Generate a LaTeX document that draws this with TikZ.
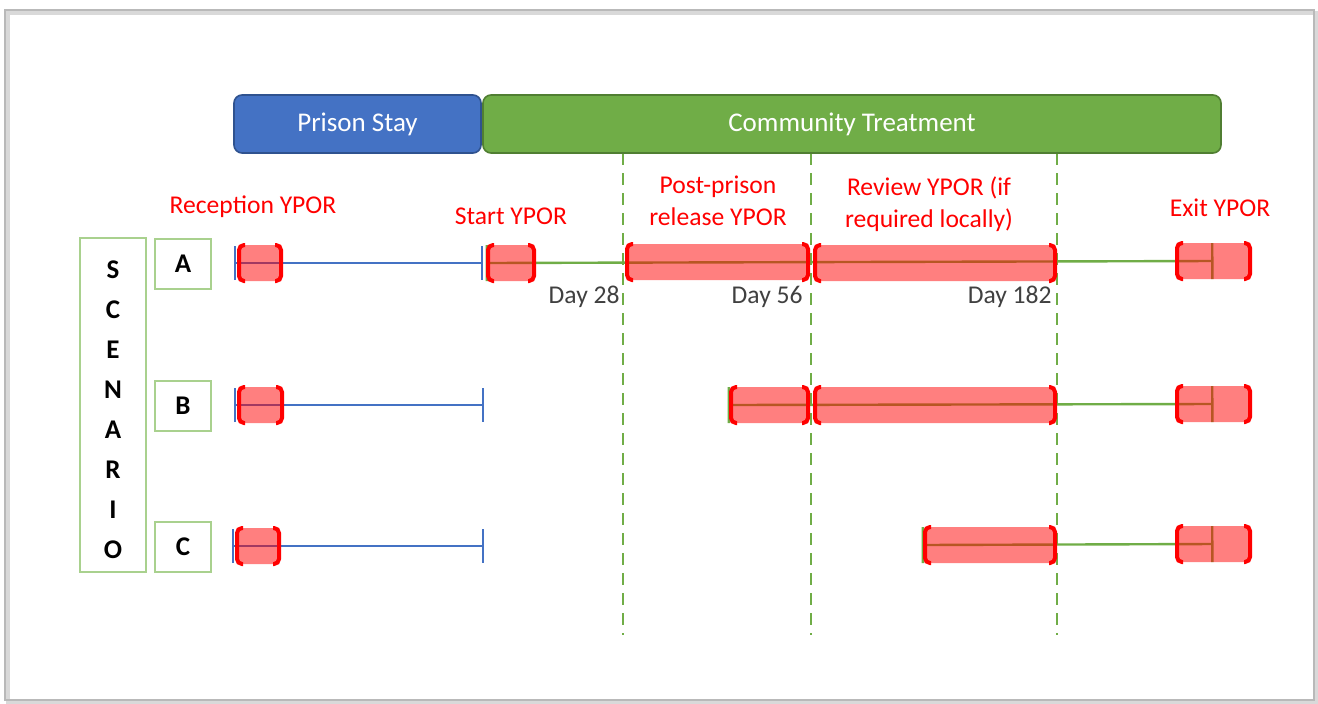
\documentclass[tikz,border=0pt]{standalone}
\usepackage{fontspec}
\setmainfont{Carlito}
\usetikzlibrary{positioning,arrows.meta,fit,backgrounds}

\definecolor{prisonblue}{HTML}{4472C4}
\definecolor{prisonedge}{HTML}{2F528F}
\definecolor{commgreen}{HTML}{70AD47}
\definecolor{commedge}{HTML}{507E32}
\definecolor{boxgreen}{HTML}{A9D18E}
\definecolor{daygray}{HTML}{404040}

\begin{document}
\begin{tikzpicture}[x=0.5pt, y=-0.5pt,
  every node/.style={font=\fontsize{12.8}{16}\selectfont},
  phase/.style={draw, line width=0.8pt, rounded corners=4pt, text=white, inner sep=0, outer sep=0,
    minimum height=29pt, font=\fontsize{13.5}{16}\selectfont},
  ypor/.style={fill=red, fill opacity=0.5, rounded corners=2pt, inner sep=0},
  bracket/.style={draw=red, line width=2pt, rounded corners=2.5pt},
  yportext/.style={text=red, align=center},
  daytext/.style={text=daygray, anchor=east, inner sep=0},
  scenbox/.style={draw=boxgreen, line width=0.6pt, inner sep=0, font=\fontsize{13.5}{16}\selectfont\bfseries},
  prisonline/.style={draw=prisonblue, line width=1.2pt, {Bar[width=17pt]}-{Bar[width=17pt]}},
  commline/.style={draw=commgreen, line width=1.2pt, {Bar[width=18pt]}-{Bar[width=18pt]}},
  daysplit/.style={draw=commgreen, line width=1pt, dash pattern=on 6pt off 4pt}]
  \useasboundingbox (0,0) rectangle (1318,703);
  %----- frame -----
  \draw[gray!30, line width=2pt] (8,13) rectangle (1316,702);
  \draw[gray!55, line width=0.8pt] (5,10) rectangle (1314,700);

  %----- YPOR capsule (name, left x, right x, centre y) -----
  \def\ypor#1#2#3#4{
    \node[ypor, fit={(#2,#4-18) (#3,#4+18)}] (#1) {};
    \draw[bracket] (#2+6,#4-18) -- (#2,#4-18) -- (#2,#4+18) -- (#2+6,#4+18);
    \draw[bracket] (#3-6,#4-18) -- (#3,#4-18) -- (#3,#4+18) -- (#3-6,#4+18);
  }

  %----- phases -----
  \node[phase, fill=prisonblue, draw=prisonedge, minimum width=123.5pt] (prison) at (357.5,124) {Prison Stay};
  \node[phase, fill=commgreen, draw=commedge, minimum width=369pt, right=1pt of prison] (community) {Community Treatment};

  %----- labels -----
  \node[yportext] (reclabel) at (253,207) {Reception YPOR};
  \node[yportext] (startlabel) at (511,216) {Start YPOR};
  \node[yportext] (postlabel) at (718,201) {Post-prison\\release YPOR};
  \node[yportext] (reviewlabel) at (929,204) {Review YPOR (if\\required locally)};
  \node[yportext] (exitlabel) at (1220,208) {Exit YPOR};
  \node[daytext] (day28) at (620,297) {Day 28};
  \node[daytext] (day56) at (803,297) {Day 56};
  \node[daytext] (day182) at (1052,297) {Day 182};

  %----- scenarios -----
  \node[scenbox, fit={(80,238) (146,572)}] (scenario) {};
  \foreach \ch [count=\i] in {S,C,E,N,A,R,I,O}
    \node[scenbox, draw=none] (scen\i) at (113,270+40*\i-40) {\ch};
  \node[scenbox, minimum width=28pt, minimum height=25pt] (A) at (183,264) {A};
  \node[scenbox, minimum width=28pt, minimum height=25pt] (B) at (183,406) {B};
  \node[scenbox, minimum width=28pt, minimum height=25pt] (C) at (183,547) {C};

  %----- capsules: row A -----
  \ypor{A-rec}{239}{281}{263}
  \ypor{A-start}{488}{534}{263}
  \ypor{A-post}{627}{808}{262}
  \ypor{A-rev}{815}{1055}{263}
  \ypor{A-exit}{1177}{1250}{261}
  %----- capsules: row B -----
  \ypor{B-rec}{239}{282}{405}
  \ypor{B-post}{731}{808}{405}
  \ypor{B-rev}{815}{1055}{405}
  \ypor{B-exit}{1177}{1250}{404}
  %----- capsules: row C -----
  \ypor{C-rec}{237}{279}{546}
  \ypor{C-rev}{925}{1055}{545}
  \ypor{C-exit}{1177}{1250}{544}

  %----- timelines -----
  \coordinate (A-in) at (234,263);
  \coordinate (B-in) at (234,405);
  \coordinate (C-in) at (232,546);
  \coordinate (A-out) at (483,263);
  \coordinate (B-out) at (484,405);
  \coordinate (C-out) at (484,546);
  \begin{scope}[on background layer]
    \foreach \x in {623,811,1057}
      \draw[daysplit] (\x,153) -- (\x,635);
    \draw[prisonline] (A-in) -- (A-out);
    \draw[prisonline] (B-in) -- (B-out);
    \draw[prisonline] (C-in) -- (C-out);
    \draw[commline] ([xshift=-1pt]A-start.west) -- (A-exit.center);
    \draw[commline] ([xshift=-1.5pt]B-post.west) -- (B-exit.center);
    \draw[commline] ([xshift=-1.5pt]C-rev.west) -- (C-exit.center);
  \end{scope}
\end{tikzpicture}
\end{document}
